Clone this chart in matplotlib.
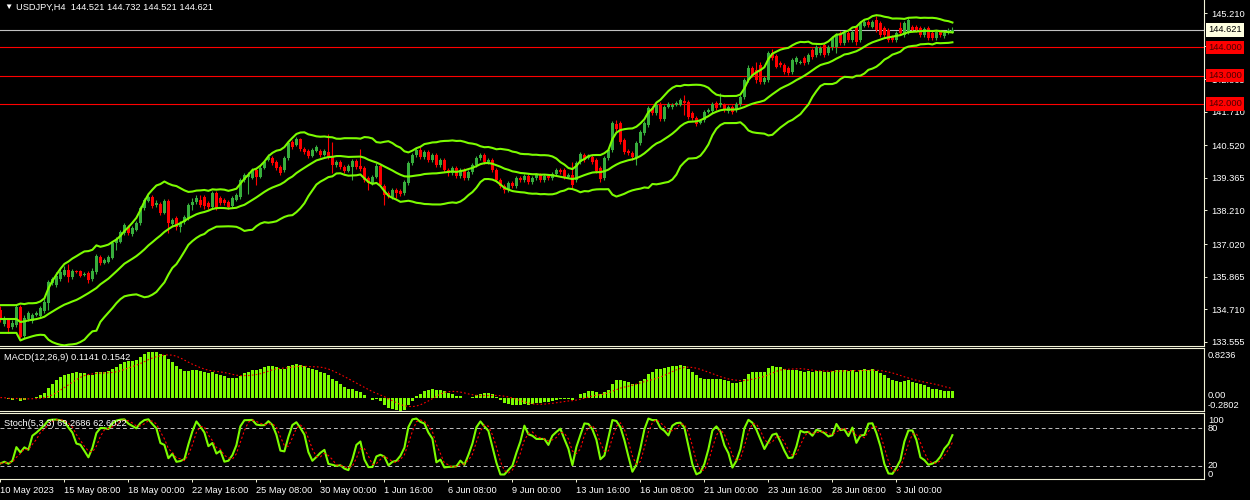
import numpy as np
import pandas as pd
import matplotlib
matplotlib.use("Agg")
import matplotlib.pyplot as plt
import matplotlib.transforms as mtransforms

plt.rcParams['font.family'] = ['Liberation Sans', 'DejaVu Sans']

# USDJPY H4 bars, 10 May 2023 16:00 -> 5 Jul 2023 08:00
opens = [
    134.68, 134.19, 134.33, 134.08, 134.15, 134.79, 133.76, 134.36, 134.29, 134.50,
    134.47, 134.64, 134.93, 135.64, 135.57, 135.78, 135.92, 136.10, 135.85, 136.06,
    136.06, 135.92, 135.99, 135.78, 136.03, 136.56, 136.34, 136.38, 136.52, 137.05,
    137.09, 137.41, 137.62, 137.38, 137.52, 137.76, 138.30, 138.54, 138.68, 138.40,
    138.44, 138.12, 138.54, 137.73, 137.94, 137.62, 137.80, 137.94, 138.40, 138.51,
    138.58, 138.68, 138.47, 138.33, 138.83, 138.65, 138.58, 138.51, 138.37, 138.58,
    138.68, 139.29, 139.40, 139.36, 139.65, 139.40, 139.72, 140.00, 140.07, 139.93,
    139.76, 139.65, 140.07, 140.64, 140.53, 140.74, 140.39, 140.32, 140.15, 140.32,
    140.32, 140.18, 140.29, 140.15, 139.83, 139.93, 139.76, 139.61, 139.76, 139.97,
    139.79, 139.72, 139.36, 139.18, 139.40, 139.79, 139.08, 138.83, 138.68, 138.94,
    138.90, 138.83, 139.18, 139.90, 140.18, 140.36, 140.11, 140.29, 140.00, 140.18,
    139.83, 140.00, 139.65, 139.54, 139.72, 139.43, 139.65, 139.36, 139.58, 139.83,
    140.07, 140.18, 139.93, 140.00, 139.65, 139.29, 139.08, 138.94, 139.18, 139.08,
    139.36, 139.29, 139.43, 139.22, 139.36, 139.47, 139.29, 139.43, 139.36, 139.51,
    139.65, 139.65, 139.40, 139.47, 139.29, 139.93, 140.18, 140.07, 140.11, 140.00,
    139.72, 139.36, 140.07, 140.36, 141.28, 141.31, 140.71, 140.32, 140.25, 140.07,
    140.60, 140.96, 141.24, 141.85, 141.67, 141.99, 141.46, 141.88, 141.88, 141.96,
    141.96, 142.10, 142.06, 141.67, 141.49, 141.31, 141.42, 141.71, 141.74, 142.03,
    141.96, 141.96, 141.74, 141.88, 141.78, 141.99, 142.24, 142.84, 143.27, 143.20,
    143.37, 142.77, 142.84, 143.80, 143.69, 143.44, 143.37, 143.27, 143.13, 143.48,
    143.44, 143.62, 143.48, 143.91, 143.73, 143.80, 144.08, 143.80, 144.01, 144.01,
    144.51, 144.15, 144.51, 144.26, 144.72, 144.26, 144.76, 144.90, 144.72, 144.97,
    144.86, 144.69, 144.62, 144.37, 144.26, 144.69, 144.44, 144.55, 144.72, 144.72,
    144.69, 144.44, 144.69, 144.51, 144.33, 144.55, 144.40, 144.51, 144.521,
]
highs = [
    134.83, 134.47, 134.40, 134.33, 134.86, 134.86, 134.50, 134.64, 134.57, 134.64,
    134.83, 135.07, 135.75, 135.85, 136.03, 136.17, 136.24, 136.31, 136.13, 136.10,
    136.10, 136.03, 136.06, 136.17, 136.66, 136.63, 136.52, 136.63, 137.12, 137.27,
    137.52, 137.76, 137.69, 137.66, 137.84, 138.37, 138.65, 138.76, 138.76, 138.58,
    138.51, 138.61, 138.61, 137.94, 138.01, 137.84, 138.05, 138.47, 138.65, 138.76,
    138.76, 138.76, 138.54, 138.90, 138.90, 138.72, 138.65, 138.58, 138.72, 138.83,
    139.36, 139.54, 139.58, 139.72, 139.72, 139.83, 140.00, 140.22, 140.15, 140.00,
    139.83, 140.15, 140.67, 140.71, 140.81, 140.78, 140.46, 140.39, 140.43, 140.53,
    140.39, 140.39, 140.92, 140.64, 140.00, 140.00, 139.83, 139.86, 140.04, 140.04,
    140.39, 139.79, 139.43, 139.47, 139.90, 139.86, 139.15, 138.90, 139.01, 139.01,
    138.97, 139.29, 139.97, 140.25, 140.43, 140.46, 140.36, 140.36, 140.25, 140.25,
    140.07, 140.07, 139.72, 139.79, 139.79, 139.72, 139.72, 139.65, 139.90, 140.15,
    140.25, 140.25, 140.07, 140.07, 139.72, 139.36, 139.15, 139.25, 139.25, 139.43,
    139.43, 139.51, 139.51, 139.43, 139.54, 139.54, 139.51, 139.51, 139.58, 139.72,
    139.72, 139.72, 139.54, 139.93, 139.97, 140.29, 140.25, 140.22, 140.18, 140.07,
    139.79, 140.15, 140.43, 141.39, 141.42, 141.39, 140.78, 140.39, 140.32, 140.67,
    141.07, 141.39, 141.92, 141.92, 142.03, 142.06, 141.96, 142.06, 142.03, 142.10,
    142.20, 142.31, 142.13, 141.74, 141.56, 141.46, 141.78, 141.85, 142.06, 142.10,
    142.38, 142.03, 141.96, 141.96, 142.06, 142.31, 142.91, 143.37, 143.34, 143.48,
    143.48, 142.98, 143.87, 143.94, 143.77, 143.52, 143.44, 143.34, 143.62, 143.69,
    143.55, 143.69, 143.80, 143.98, 144.08, 144.05, 144.15, 144.08, 144.40, 144.51,
    144.58, 144.58, 144.58, 144.62, 144.79, 144.94, 144.97, 144.97, 144.97, 145.11,
    144.94, 144.76, 144.69, 144.44, 144.58, 144.90, 144.94, 145.04, 144.79, 144.79,
    144.76, 144.72, 144.76, 144.58, 144.62, 144.62, 144.58, 144.69, 144.732,
]
lows = [
    134.26, 134.12, 133.86, 134.01, 134.08, 133.69, 133.69, 134.29, 134.22, 134.47,
    134.40, 134.57, 134.68, 135.57, 135.50, 135.71, 135.89, 135.68, 135.78, 135.99,
    135.85, 135.89, 135.64, 135.71, 135.96, 136.27, 136.31, 136.34, 136.49, 136.81,
    137.05, 137.34, 137.34, 137.31, 137.48, 137.69, 138.23, 138.51, 138.30, 138.33,
    138.05, 138.09, 137.41, 137.66, 137.52, 137.45, 137.73, 137.87, 138.23, 138.44,
    138.33, 138.26, 138.26, 138.26, 138.23, 138.40, 138.40, 138.26, 138.30, 138.54,
    138.61, 139.22, 138.79, 139.33, 139.11, 139.36, 139.68, 139.97, 139.83, 139.65,
    139.47, 139.58, 140.00, 140.39, 140.50, 140.32, 140.22, 140.07, 140.11, 140.29,
    140.11, 140.15, 140.04, 139.54, 139.76, 139.68, 139.54, 139.58, 139.29, 139.68,
    139.61, 139.22, 138.94, 139.11, 139.36, 139.08, 138.40, 138.65, 138.61, 138.65,
    138.72, 138.76, 139.11, 139.83, 140.11, 140.04, 140.04, 139.93, 139.93, 139.76,
    139.76, 139.58, 139.43, 139.47, 139.36, 139.36, 139.29, 139.29, 139.51, 139.76,
    140.00, 139.86, 139.86, 139.58, 139.22, 139.01, 138.83, 138.87, 139.01, 139.01,
    139.22, 139.22, 139.15, 139.15, 139.29, 139.22, 139.22, 139.29, 139.29, 139.43,
    139.51, 139.33, 139.36, 139.01, 139.22, 139.86, 139.93, 140.04, 139.86, 139.54,
    139.22, 139.29, 140.00, 140.29, 141.03, 140.57, 140.22, 140.18, 140.00, 139.83,
    140.53, 140.89, 141.17, 141.60, 141.60, 141.39, 141.39, 141.85, 141.81, 141.92,
    141.92, 141.60, 141.46, 141.42, 141.21, 141.28, 141.35, 141.67, 141.67, 141.78,
    141.88, 141.71, 141.67, 141.64, 141.71, 141.92, 142.17, 142.77, 142.95, 142.73,
    142.70, 142.70, 142.77, 143.55, 143.27, 143.30, 143.06, 143.02, 143.06, 143.41,
    143.41, 143.37, 143.41, 143.59, 143.66, 143.73, 143.66, 143.73, 143.91, 143.80,
    144.08, 144.08, 144.19, 144.19, 144.08, 144.19, 144.72, 144.72, 144.69, 144.55,
    144.37, 144.37, 144.19, 144.19, 144.19, 144.44, 144.37, 144.48, 144.55, 144.55,
    144.37, 144.37, 144.26, 144.26, 144.26, 144.37, 144.33, 144.48, 144.521,
]
closes = [
    134.40, 134.33, 134.05, 134.22, 134.79, 133.72, 134.40, 134.57, 134.50, 134.57,
    134.75, 134.97, 135.68, 135.78, 135.89, 136.03, 136.10, 135.85, 136.06, 136.03,
    135.89, 135.96, 135.75, 136.06, 136.59, 136.34, 136.45, 136.56, 137.05, 137.20,
    137.45, 137.69, 137.41, 137.59, 137.76, 138.30, 138.58, 138.68, 138.37, 138.47,
    138.12, 138.54, 137.76, 137.87, 137.62, 137.76, 137.98, 138.40, 138.51, 138.65,
    138.40, 138.37, 138.33, 138.83, 138.30, 138.47, 138.47, 138.33, 138.65, 138.76,
    139.29, 139.47, 139.47, 139.65, 139.40, 139.72, 139.93, 140.11, 139.90, 139.72,
    139.54, 140.07, 140.60, 140.46, 140.74, 140.39, 140.29, 140.15, 140.36, 140.46,
    140.18, 140.32, 140.11, 139.83, 139.93, 139.76, 139.61, 139.79, 139.97, 139.76,
    139.68, 139.29, 139.18, 139.40, 139.79, 139.11, 138.76, 138.72, 138.94, 138.83,
    138.79, 139.22, 139.90, 140.18, 140.36, 140.11, 140.29, 140.00, 140.18, 139.83,
    140.00, 139.65, 139.54, 139.72, 139.43, 139.65, 139.36, 139.58, 139.83, 140.07,
    140.18, 139.93, 140.00, 139.65, 139.29, 139.08, 138.94, 139.18, 139.08, 139.36,
    139.29, 139.43, 139.22, 139.36, 139.47, 139.29, 139.43, 139.36, 139.51, 139.65,
    139.58, 139.40, 139.47, 139.11, 139.90, 140.22, 140.00, 140.15, 139.93, 139.61,
    139.33, 140.07, 140.36, 141.31, 141.10, 140.64, 140.29, 140.25, 140.11, 140.60,
    141.00, 141.31, 141.85, 141.67, 141.96, 141.46, 141.88, 141.99, 141.96, 142.03,
    142.13, 142.03, 141.53, 141.49, 141.28, 141.39, 141.71, 141.78, 141.99, 141.85,
    142.03, 141.78, 141.88, 141.71, 141.99, 142.24, 142.84, 143.27, 143.02, 142.84,
    142.77, 142.91, 143.80, 143.62, 143.30, 143.37, 143.13, 143.09, 143.55, 143.62,
    143.48, 143.44, 143.73, 143.66, 144.01, 143.98, 143.73, 144.01, 144.33, 144.44,
    144.15, 144.51, 144.26, 144.55, 144.19, 144.86, 144.90, 144.79, 144.90, 144.62,
    144.44, 144.44, 144.26, 144.26, 144.51, 144.51, 144.86, 144.97, 144.62, 144.62,
    144.44, 144.65, 144.33, 144.33, 144.55, 144.44, 144.51, 144.62, 144.621,
]

date_labels = ["10 May 2023", "15 May 08:00", "18 May 00:00", "22 May 16:00",
               "25 May 08:00", "30 May 00:00", "1 Jun 16:00", "6 Jun 08:00",
               "9 Jun 00:00", "13 Jun 16:00", "16 Jun 08:00", "21 Jun 00:00",
               "23 Jun 16:00", "28 Jun 08:00", "3 Jul 00:00"]
bars_per_label = 16
price_ticks = [145.210, 144.055, 142.865, 141.710, 140.520, 139.365,
               138.210, 137.020, 135.865, 134.710, 133.555]
hidden_ticks = [144.055]  # sits under the 144.000 label box
levels = [144.0, 143.0, 142.0]
bid = 144.621
title = "USDJPY,H4  144.521 144.732 144.521 144.621"
macd_title = "MACD(12,26,9) 0.1141 0.1542"
stoch_title = "Stoch(5,3,3) 69.2686 62.6022"
macd_scale = ["0.8236", "0.00", "-0.2802"]
stoch_scale = [100, 80, 20, 0]

n = len(closes)
if not (len(opens) == len(highs) == len(lows) == n):
    raise SystemExit("length mismatch %d %d %d %d" % (len(opens), len(highs), len(lows), n))

FG = '#F2F2D8'
BAND = '#7CFC00'
BULL = '#37AE3C'
BEAR = '#FF0000'
FS = 6.7

o = np.array(opens); h = np.array(highs); l = np.array(lows); c = np.array(closes)
x = np.arange(n)
cs = pd.Series(c)

# indicators, as MT4 computes them (short warm-up at the left edge)
mid = cs.rolling(20, min_periods=5).mean()
sd = cs.rolling(20, min_periods=5).std(ddof=0)
upper = (mid + 2 * sd).bfill()
lower = (mid - 2 * sd).bfill()
mid = mid.bfill()

macd = cs.ewm(span=12, adjust=False).mean() - cs.ewm(span=26, adjust=False).mean()
signal = macd.rolling(9, min_periods=1).mean()

ll = pd.Series(l).rolling(5, min_periods=1).min()
hh = pd.Series(h).rolling(5, min_periods=1).max()
k = 100 * (cs - ll).rolling(3, min_periods=1).sum() / (hh - ll).rolling(3, min_periods=1).sum()
d = k.rolling(3, min_periods=1).mean()

W, H = 1250, 500
fig = plt.figure(figsize=(W / 100, H / 100), dpi=100, facecolor='black')


def box(x0, y0, x1, y1):
    return [x0 / W, 1 - y1 / H, (x1 - x0) / W, (y1 - y0) / H]


ax = fig.add_axes(box(0, 0, 1204, 346))
axm = fig.add_axes(box(0, 348.3, 1204, 411))
axs = fig.add_axes(box(0, 413.3, 1204, 479))

for a in (ax, axm, axs):
    a.set_facecolor('black')
    a.set_xlim(-0.1, 300.9)
    for s in a.spines.values():
        s.set_color(FG)
        s.set_linewidth(0.8)
    a.spines['left'].set_visible(False)
    a.tick_params(axis='x', bottom=False, labelbottom=False)
    a.yaxis.tick_right()
    a.tick_params(axis='y', colors=FG, labelcolor='white', length=2, width=0.7,
                  pad=3, labelsize=FS)
ax.spines['top'].set_visible(False)

# --- price panel
ax.set_ylim(133.40, 145.68)
ax.set_yticks(price_ticks)
ax.set_yticklabels(["" if v in hidden_ticks else "%.3f" % v for v in price_ticks])

col = np.where(c >= o, BULL, BEAR)
ax.vlines(x, l, h, colors=col, lw=0.8, zorder=2)
ax.bar(x, np.maximum(np.abs(c - o), 0.015), bottom=np.minimum(o, c), width=0.75,
       color=col, linewidth=0, zorder=2)

ax.axhline(bid, color='#C0C0C0', lw=0.8, zorder=1)
for lv in levels:
    ax.axhline(lv, color='red', lw=0.8, zorder=1)

for band in (upper, mid, lower):
    ax.plot(x, band, color=BAND, lw=1.5, zorder=3)

tr = mtransforms.blended_transform_factory(ax.transAxes, ax.transData)
ax.text(1.0035, bid, "%.3f" % bid, transform=tr, ha='left', va='center', fontsize=FS,
        color='black', clip_on=False, zorder=5,
        bbox=dict(boxstyle='square,pad=0.25', fc='#FFFFE0', ec='none'))
for lv in levels:
    ax.text(1.0035, lv, "%.3f" % lv, transform=tr, ha='left', va='center', fontsize=FS,
            color='#4a0000', clip_on=False, zorder=5,
            bbox=dict(boxstyle='square,pad=0.25', fc='#FF0000', ec='none'))

# --- MACD panel
mx = max(macd.max(), signal.max())
mn = min(macd.min(), signal.min())
axm.set_ylim(mn, mx + (mx - mn) * 3.4 / 59.3)
axm.set_yticks([])
axm.bar(x, macd, width=0.75, color=BAND, linewidth=0)
axm.plot(x, signal, color='red', lw=0.8, linestyle=(0, (1.5, 2)))

# --- Stochastic panel
axs.set_ylim(0, 103.8)
axs.set_yticks([])
for lv in (80, 20):
    axs.axhline(lv, color='#C0C0C0', lw=0.7, linestyle=(0, (4, 3)))
axs.plot(x, k, color=BAND, lw=1.5)
axs.plot(x, d, color='red', lw=0.8, linestyle=(0, (2, 2)))

axs.set_xticks(np.arange(len(date_labels)) * bars_per_label)
axs.set_xticklabels(date_labels, ha='left')
axs.tick_params(axis='x', bottom=True, labelbottom=True, colors=FG, labelcolor='white',
                length=2, width=0.7, pad=3, labelsize=FS)

# --- texts
fig.text(4 / W, 1 - 7 / H, "\u25bc", color='white', fontsize=6, va='center')
fig.text(16 / W, 1 - 7 / H, title, color='white', fontsize=FS, va='center')
fig.text(4 / W, 1 - 357 / H, macd_title, color='white', fontsize=FS, va='center')
fig.text(4 / W, 1 - 423 / H, stoch_title, color='white', fontsize=FS, va='center')

for txt, ypx in zip(macd_scale, [355.7, 396, 405.7]):
    fig.text(1208 / W, 1 - ypx / H, txt, color='white', fontsize=FS, va='center')
for val, ypx in zip(stoch_scale, [420.8, 428.3, 466.0, 474.5]):
    fig.text(1208 / W, 1 - ypx / H, str(val), color='white', fontsize=FS, va='center')

fig.savefig('out.png', dpi=100, facecolor='black')
